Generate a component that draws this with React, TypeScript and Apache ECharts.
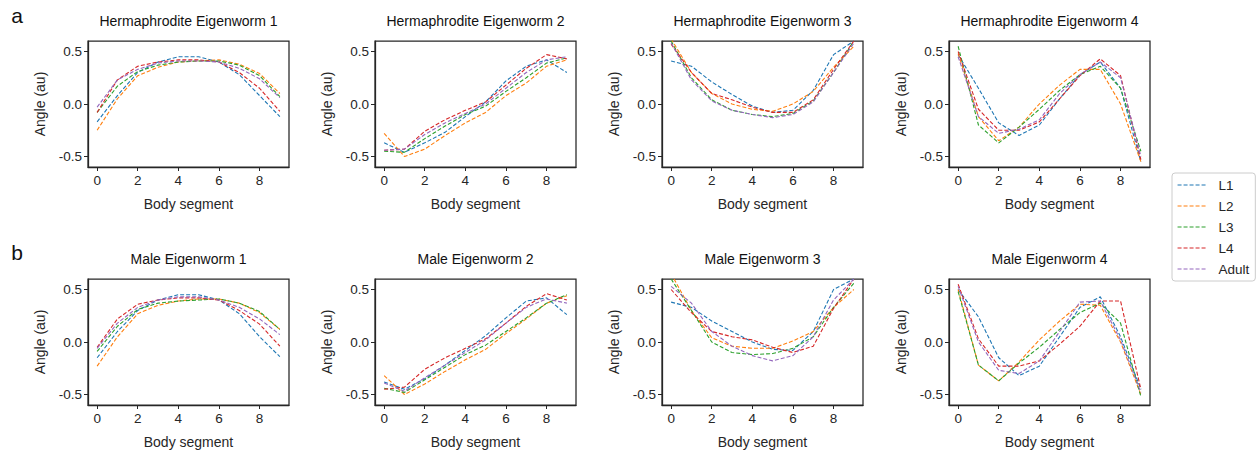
import React, { useEffect, useRef } from 'react';
import * as echarts from 'echarts';

const stages = ['L1', 'L2', 'L3', 'L4', 'Adult'];
const colors = ['#1f77b4', '#ff7f0e', '#2ca02c', '#d62728', '#9467bd'];
const segments = [0, 1, 2, 3, 4, 5, 6, 7, 8, 9];
const xTicks = [0, 2, 4, 6, 8];
const yTicks = [-0.5, 0, 0.5];
const panelTitles = [
  'Hermaphrodite Eigenworm 1',
  'Hermaphrodite Eigenworm 2',
  'Hermaphrodite Eigenworm 3',
  'Hermaphrodite Eigenworm 4',
  'Male Eigenworm 1',
  'Male Eigenworm 2',
  'Male Eigenworm 3',
  'Male Eigenworm 4',
];
const rowLabels = ['a', 'b'];

// each panel: [L1, L2, L3, L4, Adult]
const hermEw1 = [
  [-0.17, 0.08, 0.3, 0.4, 0.45, 0.45, 0.4, 0.28, 0.08, -0.12],
  [-0.25, 0.05, 0.27, 0.35, 0.4, 0.41, 0.42, 0.38, 0.29, 0.1],
  [-0.08, 0.17, 0.31, 0.37, 0.4, 0.41, 0.41, 0.37, 0.27, 0.07],
  [-0.08, 0.23, 0.36, 0.4, 0.42, 0.42, 0.4, 0.3, 0.15, -0.07],
  [-0.03, 0.23, 0.33, 0.39, 0.41, 0.41, 0.4, 0.34, 0.24, 0.06],
];
const hermEw2 = [
  [-0.37, -0.46, -0.37, -0.27, -0.12, 0.02, 0.22, 0.36, 0.42, 0.3],
  [-0.28, -0.5, -0.43, -0.3, -0.18, -0.08, 0.08, 0.2, 0.36, 0.42],
  [-0.45, -0.46, -0.33, -0.21, -0.1, -0.02, 0.12, 0.25, 0.39, 0.44],
  [-0.44, -0.43, -0.26, -0.15, -0.06, 0.02, 0.18, 0.34, 0.47, 0.43],
  [-0.44, -0.43, -0.29, -0.18, -0.09, 0.0, 0.15, 0.3, 0.42, 0.45],
];
const hermEw3 = [
  [0.41, 0.36, 0.21, 0.09, -0.02, -0.08, -0.06, 0.13, 0.47, 0.6],
  [0.62, 0.3, 0.1, 0.0, -0.05, -0.07, 0.0, 0.12, 0.35, 0.55],
  [0.6, 0.25, 0.04, -0.06, -0.1, -0.12, -0.09, 0.03, 0.3, 0.6],
  [0.57, 0.3, 0.1, 0.04, -0.03, -0.08, -0.08, 0.04, 0.33, 0.6],
  [0.58, 0.23, 0.03, -0.06, -0.1, -0.13, -0.1, 0.02, 0.3, 0.58],
];
const hermEw4 = [
  [0.47, 0.15, -0.18, -0.3, -0.2, 0.05, 0.28, 0.4, 0.15, -0.55],
  [0.48, -0.12, -0.35, -0.22, 0.0, 0.18, 0.33, 0.33, 0.0, -0.55],
  [0.55, -0.2, -0.37, -0.22, -0.05, 0.13, 0.28, 0.36, 0.15, -0.45],
  [0.5, -0.05, -0.25, -0.25, -0.17, 0.05, 0.27, 0.43, 0.27, -0.53],
  [0.45, -0.12, -0.28, -0.24, -0.15, 0.1, 0.28, 0.4, 0.25, -0.5],
];
const maleEw1 = [
  [-0.15, 0.1, 0.3, 0.4, 0.45, 0.45, 0.4, 0.27, 0.05, -0.14],
  [-0.23, 0.05, 0.27, 0.35, 0.39, 0.41, 0.41, 0.37, 0.28, 0.12],
  [-0.09, 0.15, 0.31, 0.37, 0.39, 0.4, 0.41, 0.37, 0.29, 0.12],
  [-0.05, 0.22, 0.36, 0.4, 0.42, 0.42, 0.4, 0.3, 0.17, -0.04],
  [-0.06, 0.18, 0.33, 0.4, 0.43, 0.43, 0.4, 0.33, 0.22, 0.07],
];
const maleEw2 = [
  [-0.38, -0.45, -0.35, -0.22, -0.08, 0.06, 0.23, 0.39, 0.42, 0.26],
  [-0.32, -0.5, -0.4, -0.28, -0.17, -0.07, 0.08, 0.22, 0.37, 0.44],
  [-0.44, -0.48, -0.36, -0.24, -0.12, -0.03, 0.1, 0.23, 0.37, 0.45],
  [-0.45, -0.43, -0.26, -0.15, -0.06, 0.03, 0.18, 0.34, 0.46, 0.4],
  [-0.39, -0.47, -0.34, -0.22, -0.1, 0.02, 0.18, 0.33, 0.41, 0.37],
];
const maleEw3 = [
  [0.38, 0.33, 0.2, 0.1, 0.0, -0.07, -0.08, 0.1, 0.5, 0.6],
  [0.65, 0.3, 0.04, -0.04, -0.06, -0.06, 0.01, 0.1, 0.33, 0.5],
  [0.6, 0.3, 0.0, -0.1, -0.12, -0.11, -0.06, 0.05, 0.33, 0.56],
  [0.5, 0.28, 0.1, 0.05, 0.02, -0.05, -0.1, -0.04, 0.32, 0.6],
  [0.53, 0.37, 0.1, -0.04, -0.13, -0.18, -0.13, 0.05, 0.4, 0.6],
];
const maleEw4 = [
  [0.5, 0.24, -0.15, -0.32, -0.23, 0.05, 0.33, 0.43, 0.05, -0.45],
  [0.5, -0.22, -0.37, -0.19, 0.02, 0.2, 0.36, 0.35, 0.0, -0.5],
  [0.48, -0.22, -0.37, -0.2, -0.05, 0.12, 0.28, 0.37, 0.18, -0.52],
  [0.55, 0.03, -0.23, -0.23, -0.18, -0.02, 0.15, 0.39, 0.39, -0.45],
  [0.53, 0.0, -0.27, -0.3, -0.18, 0.1, 0.38, 0.39, 0.02, -0.48],
];
const panels = [hermEw1, hermEw2, hermEw3, hermEw4, maleEw1, maleEw2, maleEw3, maleEw4];

const FONT = '"Liberation Sans", Arial, Helvetica, sans-serif';
const INK = '#262626';
const gridLefts = [88, 375, 662, 949];
const gridTops = [41, 279];
const gridW = 201;
const gridH = 126;

export default function App() {
  const ref = useRef<HTMLDivElement>(null);
  useEffect(() => {
    document.body.style.margin = '0';
    if (!ref.current) return;
    const chart = echarts.init(ref.current, undefined, { renderer: 'svg' });
    const grids: any[] = [];
    const xAxes: any[] = [];
    const yAxes: any[] = [];
    const series: any[] = [];
    const graphics: any[] = [];
    panels.forEach((panel, i) => {
      const row = Math.floor(i / 4);
      const col = i % 4;
      grids.push({
        left: gridLefts[col],
        top: gridTops[row],
        width: gridW,
        height: gridH,
        show: true,
        borderColor: INK,
        borderWidth: 1.25,
        backgroundColor: 'transparent',
      });
      xAxes.push({
        type: 'value',
        gridIndex: i,
        min: -0.45,
        max: 9.45,
        name: 'Body segment',
        nameLocation: 'middle',
        nameGap: 30,
        nameTextStyle: { fontSize: 14, color: INK, fontFamily: FONT },
        axisLine: { show: true, onZero: false, lineStyle: { color: INK, width: 1.25 } },
        axisTick: { show: true, length: 4, lineStyle: { color: INK, width: 1 }, customValues: xTicks },
        axisLabel: { customValues: xTicks, fontSize: 13.5, color: INK, fontFamily: FONT, margin: 6 },
        splitLine: { show: false },
      });
      yAxes.push({
        type: 'value',
        gridIndex: i,
        min: -0.6,
        max: 0.6,
        name: 'Angle (au)',
        nameLocation: 'middle',
        nameGap: 41,
        nameTextStyle: { fontSize: 14, color: INK, fontFamily: FONT },
        axisLine: { show: true, onZero: false, lineStyle: { color: INK, width: 1.25 } },
        axisTick: { show: true, length: 4, lineStyle: { color: INK, width: 1 }, customValues: yTicks },
        axisLabel: {
          customValues: yTicks,
          fontSize: 13.5,
          color: INK,
          fontFamily: FONT,
          margin: 6,
          formatter: (v: number) => (Math.abs(v) < 1e-9 ? '0.0' : v.toFixed(1)),
        },
        splitLine: { show: false },
      });
      panel.forEach((vals, s) => {
        series.push({
          type: 'line',
          name: stages[s],
          xAxisIndex: i,
          yAxisIndex: i,
          data: segments.map((x, k) => [x, vals[k]]),
          symbol: 'none',
          showSymbol: false,
          clip: true,
          lineStyle: { color: colors[s], width: 1.1, type: [4, 2] },
          itemStyle: { color: colors[s] },
        });
      });
      graphics.push({
        type: 'text',
        x: gridLefts[col] + gridW / 2,
        y: gridTops[row] - 20,
        style: {
          text: panelTitles[i],
          fill: '#111',
          font: `14px ${FONT}`,
          align: 'center',
          verticalAlign: 'middle',
        },
      });
    });
    rowLabels.forEach((lab, r) => {
      graphics.push({
        type: 'text',
        x: 17,
        y: r === 0 ? 15 : 252,
        style: {
          text: lab,
          fill: '#111',
          font: `21px ${FONT}`,
          align: 'center',
          verticalAlign: 'middle',
        },
      });
    });
    chart.setOption({
      animation: false,
      backgroundColor: '#ffffff',
      grid: grids,
      xAxis: xAxes,
      yAxis: yAxes,
      series,
      graphic: graphics,
      legend: {
        data: stages,
        orient: 'vertical',
        left: 1172,
        top: 173,
        itemWidth: 30,
        itemHeight: 14,
        itemGap: 7,
        padding: [5, 6, 5, 5],
        borderColor: '#cccccc',
        borderWidth: 1,
        borderRadius: 3,
        backgroundColor: '#ffffff',
        itemStyle: { opacity: 0 },
        lineStyle: { width: 1.1 },
        textStyle: { fontSize: 13.5, color: INK, fontFamily: FONT, padding: [0, 0, 0, 6] },
      },
    });
    return () => chart.dispose();
  }, []);
  return <div ref={ref} style={{ width: 1258, height: 454 }} />;
}
